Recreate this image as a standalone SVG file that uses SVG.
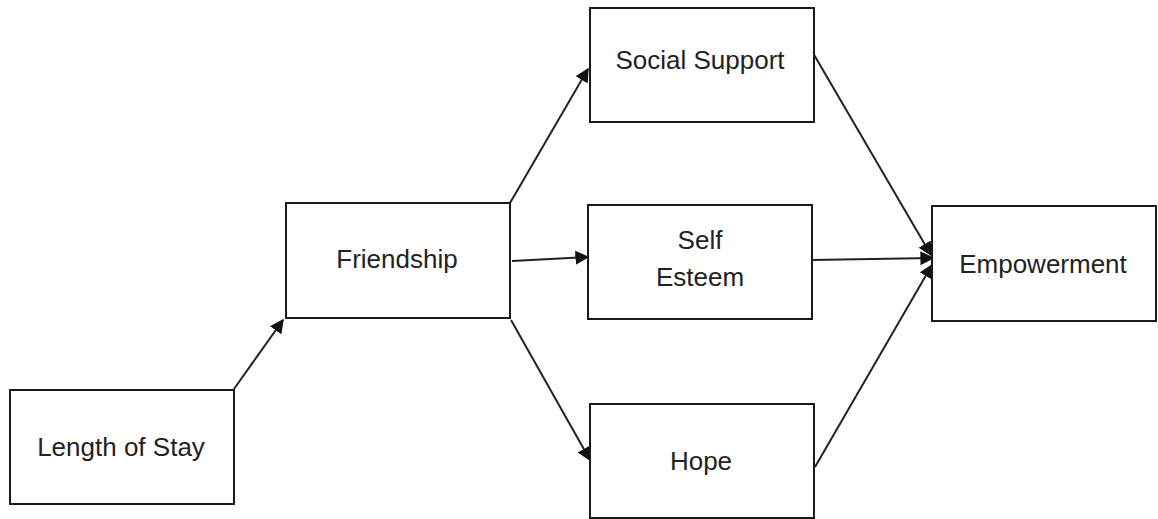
<svg xmlns="http://www.w3.org/2000/svg" width="1158" height="519" viewBox="0 0 1158 519">
<defs>
<style>
.box{fill:#fff;stroke:#1a1a1a;stroke-width:2}
.lbl{font-family:"Liberation Sans",Arial,sans-serif;font-size:26px;fill:#222;text-anchor:middle}
.edge{stroke:#222;stroke-width:2;fill:none}
</style>
<marker id="ah" viewBox="0 0 10 10" refX="9" refY="5" markerWidth="7" markerHeight="7" markerUnits="strokeWidth" orient="auto">
<path d="M0,0 L10,5 L0,10 z" fill="#111"/>
</marker>
</defs>
<rect width="1158" height="519" fill="#fff"/>
<g id="connectors">
<line class="edge" x1="234" y1="389" x2="283" y2="320" marker-end="url(#ah)"/>
<line class="edge" x1="510" y1="203" x2="588" y2="69" marker-end="url(#ah)"/>
<line class="edge" x1="512" y1="261" x2="588" y2="257" marker-end="url(#ah)"/>
<line class="edge" x1="511" y1="320" x2="590" y2="460" marker-end="url(#ah)"/>
<line class="edge" x1="813" y1="53" x2="931" y2="255" marker-end="url(#ah)"/>
<line class="edge" x1="812" y1="260" x2="933" y2="258" marker-end="url(#ah)"/>
<line class="edge" x1="815" y1="467" x2="932" y2="265" marker-end="url(#ah)"/>
</g>
<g id="length-of-stay">
<rect class="box" x="10" y="390" width="224" height="114"/>
<text class="lbl" x="121" y="456">Length of Stay</text>
</g>
<g id="friendship">
<rect class="box" x="286" y="203" width="224" height="115"/>
<text class="lbl" x="397" y="268">Friendship</text>
</g>
<g id="social-support">
<rect class="box" x="590" y="8" width="224" height="114"/>
<text class="lbl" x="700" y="69">Social Support</text>
</g>
<g id="self-esteem">
<rect class="box" x="588" y="205" width="224" height="114"/>
<text class="lbl" x="700" y="249">Self</text>
<text class="lbl" x="700" y="286">Esteem</text>
</g>
<g id="hope">
<rect class="box" x="590" y="404" width="224" height="114"/>
<text class="lbl" x="701" y="470">Hope</text>
</g>
<g id="empowerment">
<rect class="box" x="932" y="206" width="224" height="115"/>
<text class="lbl" x="1043" y="273">Empowerment</text>
</g>
</svg>
